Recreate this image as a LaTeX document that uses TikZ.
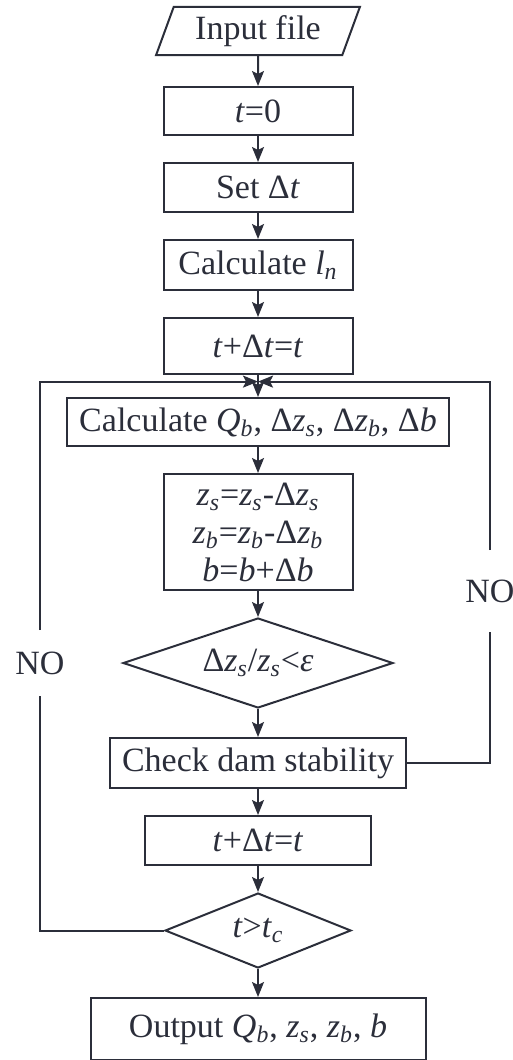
\documentclass[tikz,border=0pt]{standalone}
\usepackage{fontspec}
\setmainfont{Liberation Serif}
\usetikzlibrary{arrows.meta, positioning, shapes.geometric, calc}
\definecolor{ink}{HTML}{2B2E3A}
\newcommand{\sub}[1]{\textsubscript{\itshape #1}}
\newcommand{\vi}[1]{\textit{#1}}

\begin{document}
\begin{tikzpicture}[
    font=\fontsize{17}{19}\selectfont,
    color=ink,
    line width=1pt,
    box/.style={rectangle, draw, minimum width=#1, minimum height=24.5pt,
                align=center, inner sep=2pt},
    dec/.style={diamond, draw, inner sep=0pt, aspect=3},
    io/.style={trapezium, trapezium left angle=72, trapezium right angle=108,
               trapezium stretches=true, draw, minimum width=102pt,
               minimum height=24pt},
    lbl/.style={inner sep=0pt, minimum height=#1},
    arr/.style={-{Stealth[length=7.5pt, width=6pt, inset=1.5pt]}},
    node distance=13pt
  ]

  \useasboundingbox (-129pt,15.5pt) rectangle (127.5pt,-514.5pt);

  \node[io] (input) at (0,0) {Input file};
  \node[box=94.5pt, minimum height=24pt, below=15pt of input] (t0) {\vi{t}=0};
  \node[box=94.5pt, below=of t0]     (setdt) {Set Δ\vi{t}};
  \node[box=94.5pt, minimum height=25pt, below=of setdt] (calcl) {Calculate \vi{l}\sub{n}};
  \node[box=94.5pt, minimum height=28pt, below=of calcl] (tdt1) {\vi{t}+Δ\vi{t}=\vi{t}};
  \node[box=191pt, minimum height=24pt, below=11pt of tdt1]   (calcQ)
    {Calculate \vi{Q}\sub{b}, Δ\vi{z}\sub{s}, Δ\vi{z}\sub{b}, Δ\vi{b}};
  \node[box=94.5pt, minimum height=58pt, below=of calcQ]  (update)
    {\vi{z}\sub{s}=\vi{z}\sub{s}-Δ\vi{z}\sub{s}\\
     \vi{z}\sub{b}=\vi{z}\sub{b}-Δ\vi{z}\sub{b}\\
     \vi{b}=\vi{b}+Δ\vi{b}};
  \node[dec, minimum width=135pt, minimum height=45pt, below=of update] (conv)
    {Δ\vi{z}\sub{s}/\vi{z}\sub{s}<\vi{ε}};
  \node[box=148pt, minimum height=25pt, below=14pt of conv] (check) {Check dam stability};
  \node[box=113pt, below=of check] (tdt2) {\vi{t}+Δ\vi{t}=\vi{t}};
  \node[dec, minimum width=93pt, minimum height=37.5pt, below=of tdt2] (tend)
    {\vi{t}>\vi{t}\sub{c}};
  \node[box=167.5pt, minimum height=31pt, below=14pt of tend] (output)
    {Output \vi{Q}\sub{b}, \vi{z}\sub{s}, \vi{z}\sub{b}, \vi{b}};

  \foreach \a/\b in {input/t0, t0/setdt, setdt/calcl, calcl/tdt1, tdt1/calcQ,
                     calcQ/update, update/conv, conv/check, check/tdt2,
                     tdt2/tend, tend/output}
    \draw[arr] (\a) -- (\b);

  % loop-back lines
  \coordinate (jn) at ($(tdt1.south)!0.3!(calcQ.north)$);
  \coordinate (lx) at (-109pt,0);
  \coordinate (rx) at (116pt,0);
  \node[lbl=32pt] (noL) at (conv -| lx) {NO};
  \node[lbl=40pt] (noR) at (update.south -| rx) {NO};

  \draw (tend.west) -| (noL.south);
  \draw[arr] (noL.north) |- (jn);
  \draw (check.east) -| (noR.south);
  \draw[arr] (noR.north) |- (jn);

\end{tikzpicture}
\end{document}
